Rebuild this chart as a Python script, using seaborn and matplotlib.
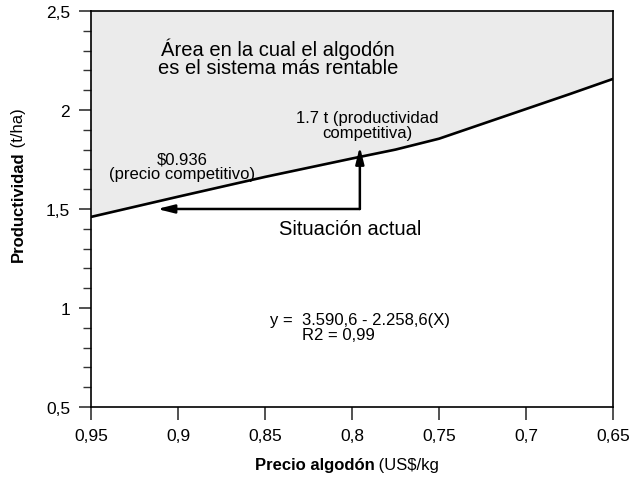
import matplotlib
matplotlib.use('Agg')
import matplotlib.pyplot as plt
from matplotlib.ticker import MultipleLocator, FuncFormatter
import seaborn as sns
import pandas as pd

# Curve (price US$/kg -> yield t/ha)
precio = [0.95, 0.90, 0.85, 0.80, 0.775, 0.75, 0.725, 0.70, 0.675, 0.65]
productividad = [1.46, 1.562, 1.662, 1.755, 1.80, 1.855, 1.93, 2.005, 2.08, 2.157]

# Current situation and competitive point
actual_precio = 0.7955
actual_prod = 1.50
comp_precio = 0.912
comp_prod = 1.815

sns.set_style("ticks")
plt.rcParams['font.family'] = ['Liberation Sans', 'DejaVu Sans']
plt.rcParams['text.color'] = 'black'
plt.rcParams['xtick.labelcolor'] = 'black'
plt.rcParams['ytick.labelcolor'] = 'black'

fig = plt.figure(figsize=(6.29, 4.81), dpi=100)
ax = fig.add_axes([0.1447, 0.1518, 0.8299, 0.8233])

df = pd.DataFrame({'precio': precio, 'productividad': productividad})
ax.fill_between(precio, productividad, 2.5, color='#ebebeb', zorder=0)
sns.lineplot(data=df, x='precio', y='productividad', ax=ax, color='black',
             linewidth=1.9, zorder=3)

ax.set_xlim(0.95, 0.65)
ax.set_ylim(0.5, 2.5)
ax.xaxis.set_major_locator(MultipleLocator(0.05))
ax.yaxis.set_major_locator(MultipleLocator(0.5))
ax.yaxis.set_minor_locator(MultipleLocator(0.1))
fmt = FuncFormatter(lambda v, p: f"{v:g}".replace('.', ','))
ax.xaxis.set_major_formatter(fmt)
ax.yaxis.set_major_formatter(fmt)
ax.tick_params(axis='both', which='major', length=9, width=1.2, labelsize=12.5, color='#333333')
ax.tick_params(axis='y', which='minor', length=6, width=1.0, color='#333333')
ax.tick_params(axis='x', pad=6)
ax.tick_params(axis='y', pad=6)
for s in ax.spines.values():
    s.set_color('black')
    s.set_linewidth(1.2)
ax.set_xlabel('')
ax.set_ylabel('')

# arrows
arrow = dict(arrowstyle='-|>,head_length=1.0,head_width=0.25', color='black',
             lw=1.8, shrinkA=0, shrinkB=0)
ax.annotate('', xy=(comp_precio, actual_prod), xytext=(actual_precio, actual_prod),
            arrowprops=arrow, zorder=4)
ax.annotate('', xy=(actual_precio, comp_prod), xytext=(actual_precio, actual_prod),
            arrowprops=arrow, zorder=4)

ax.text(0.8425, 2.268, 'Área en la cual el algodón\nes el sistema más rentable',
        ha='center', va='center', fontsize=14.5, linespacing=0.95)
ax.text(0.791, 1.925, '1.7 t (productividad\ncompetitiva)',
        ha='center', va='center', fontsize=12, linespacing=0.95)
ax.text(0.8977, 1.715, '\\$0.936\n(precio competitivo)',
        ha='center', va='center', fontsize=12, linespacing=0.95)
ax.text(0.801, 1.399, 'Situación actual', ha='center', va='center', fontsize=14.5)
ax.text(0.847, 0.944, 'y =  3.590,6 - 2.258,6(X)', ha='left', va='center', fontsize=12)
ax.text(0.8287, 0.868, 'R2 = 0,99', ha='left', va='center', fontsize=12)

# axis labels with bold + regular parts
xl = fig.text(0.405, 0.016, 'Precio algodón', fontsize=12, fontweight='bold',
              ha='left', va='bottom')
fig.canvas.draw()
ax.annotate(' (US$/kg', xy=(1, 0), xycoords=xl, ha='left', va='bottom', fontsize=12)

yl = fig.text(0.018, 0.455, 'Productividad', fontsize=12, fontweight='bold',
              rotation=90, ha='left', va='bottom')
ax.annotate(' (t/ha)', xy=(0.5, 1), xycoords=yl, ha='center', va='bottom',
            rotation=90, fontsize=12)

fig.savefig('out.png', dpi=100)
